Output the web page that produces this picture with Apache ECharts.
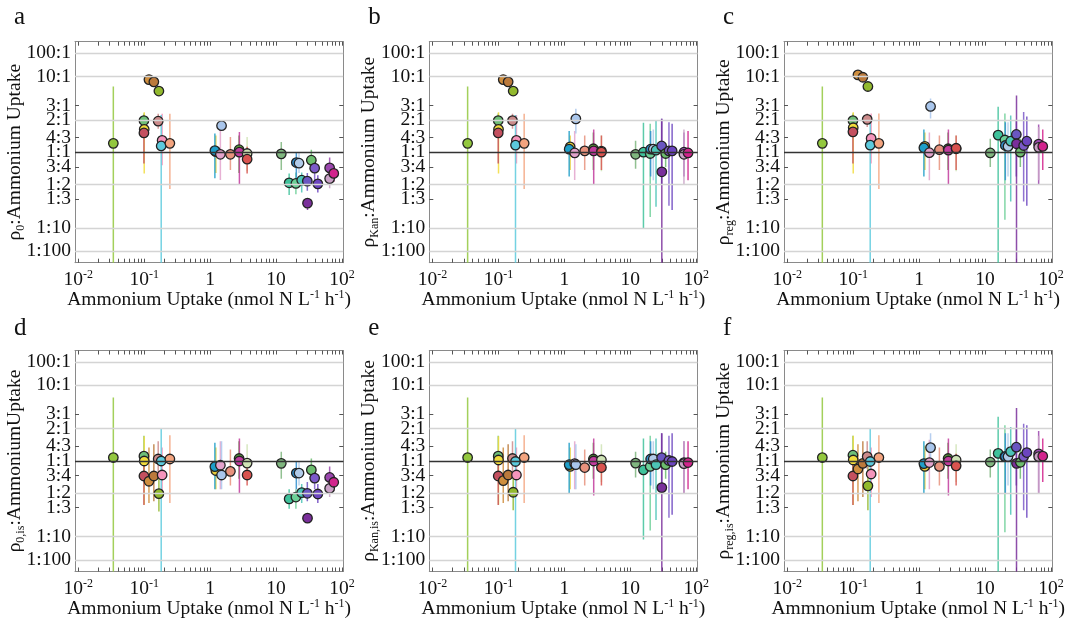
<!DOCTYPE html>
<html><head><meta charset="utf-8">
<script src="https://cdn.jsdelivr.net/npm/echarts@6/dist/echarts.min.js"></script>
<style>html,body{margin:0;padding:0;background:#fff}#c{width:1071px;height:623px}</style>
</head><body><div id="c"></div>
<script>
// ---- data ----
const uptake = [0.034,0.099,0.100,0.099,0.118,0.140,0.167,0.163,0.187,0.181,0.245,
  1.22,1.18,1.43,1.49,2.03,2.75,2.78,3.64,3.64,
  12,15.8,20,20.3,22.3,24.5,29.8,30,34.3,38.5,43,65,65,75];
const colors = ['#93c83e','#6fbf78','#f2dc3c','#c4505f','#cf8e3e','#bb7a3c','#92b92e','#cc8b8b','#f595bc','#5ccadd','#f3a47f',
  '#e6cc3a','#1e9ec8','#e3a3cc','#a9c6ec','#e8927d','#5c9e3c','#c23b9e','#cfe3b5','#d9534f',
  '#7fb67f','#3fc29b','#6ccf96','#2f8ecf','#b1cbe9','#4cc4b6','#6a56c2','#7a2f9b','#6cbd6e','#7c5ac9','#6c45bf','#9b47ae','#c9a1c6','#d2248d'];

const ratioA = [1.19,1.97,1.61,1.48,8.8,8.0,5.47,1.94,1.26,1.13,1.19,
  1.01,1.03,0.96,1.75,0.96,1.05,1.0,0.975,0.872,
  0.968,0.52,0.512,0.817,0.806,0.552,0.54,0.279,0.855,0.728,0.508,0.733,0.573,0.646];
const hiA = [6.6,2.4,2.48,1.75,8.9,8.1,5.55,2.37,2.37,2.3,2.37,
  1.4,1.46,1.69,1.93,1.35,1.4,1.51,1.35,1.11,
  1.22,0.646,0.66,1.0,1.0,0.66,0.65,0.33,1.05,0.85,0.62,0.9,0.66,0.75];
const loA = [0.001,1.6,0.646,0.8,8.7,7.9,5.4,1.63,0.775,0.001,0.44,
  0.65,0.578,0.556,1.6,0.70,0.65,0.495,0.68,0.646,
  0.70,0.373,0.38,0.556,0.65,0.40,0.42,0.21,0.68,0.55,0.40,0.6,0.45,0.53];

const ratioB = [1.19,1.97,1.61,1.48,8.8,8.0,5.47,1.97,1.26,1.15,1.19,
  1.11,1.06,0.985,2.06,1.026,1.07,1.026,1.02,1.0,
  0.96,1.0,0.975,1.06,1.06,1.04,1.13,0.67,0.975,1.026,1.026,1.0,0.96,0.985];
const hiB = [6.6,2.4,2.48,1.75,8.9,8.1,5.55,2.37,2.3,2.3,2.37,
  1.4,1.55,1.55,2.73,1.4,1.5,1.6,1.4,1.4,
  1.25,1.87,1.83,1.55,1.6,1.97,2.06,2.06,1.2,1.9,1.83,1.5,1.6,1.55];
const loB = [0.001,1.6,0.646,0.8,8.7,7.9,5.4,1.63,0.8,0.001,0.44,
  0.7,0.6,0.556,1.46,0.7,0.7,0.495,0.68,0.7,
  0.72,0.094,0.158,0.6,0.55,0.24,0.5,0.001,0.75,0.25,0.21,0.6,0.5,0.55];

const ratioC = [1.19,1.97,1.67,1.52,11.7,9.7,6.6,2.03,1.31,1.15,1.19,
  1.12,1.09,0.99,2.92,1.05,1.07,1.04,1.07,1.08,
  0.985,1.41,1.27,1.14,1.12,1.24,1.43,1.18,1.0,1.14,1.24,1.17,1.10,1.12];
const hiC = [6.6,2.4,2.48,1.8,11.9,9.9,6.7,2.4,2.4,2.3,2.4,
  1.5,1.6,1.5,4.0,1.4,1.5,1.6,1.4,1.4,
  1.3,2.89,2.39,1.9,1.9,2.27,2.0,4.56,1.3,2.5,2.2,1.8,1.7,1.6];
const loC = [0.001,1.6,0.646,0.8,11.5,9.5,6.5,1.7,0.8,0.001,0.44,
  0.7,0.6,0.55,2.08,0.7,0.7,0.5,0.68,0.7,
  0.75,0.001,0.14,0.55,0.6,0.30,0.6,0.001,0.75,0.3,0.25,0.5,0.55,0.7];

const ratioD = [1.07,1.10,1.0,0.745,0.66,0.745,0.495,1.04,0.76,1.0,1.04,
  0.83,0.895,0.92,0.76,0.817,1.05,1.0,0.96,0.76,
  0.955,0.427,0.45,0.79,0.79,0.508,0.5,0.216,0.84,0.71,0.49,0.72,0.56,0.645];
const hiD = [6.0,1.7,1.68,1.0,1.3,1.4,0.73,1.5,1.3,2.0,1.72,
  1.3,1.45,1.5,1.5,1.25,1.5,1.6,1.4,1.0,
  1.2,0.55,0.55,1.0,1.0,0.62,0.65,0.26,1.05,0.85,0.62,0.9,0.66,0.75];
const loD = [0.001,0.7,0.363,0.36,0.38,0.4,0.286,0.8,0.45,0.001,0.38,
  0.55,0.55,0.55,0.55,0.6,0.7,0.5,0.7,0.6,
  0.7,0.32,0.32,0.55,0.6,0.38,0.4,0.18,0.68,0.55,0.38,0.6,0.45,0.53];

const ratioE = [1.07,1.10,1.02,0.745,0.67,0.76,0.512,1.05,0.76,0.99,1.07,
  0.90,0.93,0.95,0.93,0.88,1.04,1.0,1.02,0.88,
  0.96,0.84,0.9,1.04,1.04,0.93,1.07,0.57,0.93,1.01,0.99,0.97,0.95,0.97];
const hiE = [6.0,1.7,1.68,1.0,1.3,1.4,0.75,1.5,1.3,2.0,1.72,
  1.3,1.45,1.5,1.4,1.25,1.45,1.6,1.4,1.1,
  1.2,1.6,1.7,1.5,1.5,1.6,1.8,1.8,1.2,1.7,1.8,1.5,1.5,1.5];
const loE = [0.001,0.7,0.363,0.36,0.38,0.4,0.3,0.8,0.45,0.001,0.38,
  0.55,0.5,0.55,0.55,0.6,0.7,0.47,0.65,0.6,
  0.72,0.075,0.13,0.6,0.55,0.2,0.5,0.001,0.7,0.22,0.25,0.5,0.5,0.55];

const ratioF = [1.07,1.12,1.02,0.745,0.855,0.955,0.594,1.09,0.775,0.99,1.07,
  0.9,0.95,0.97,1.3,0.9,1.05,1.0,1.02,0.91,
  0.98,1.16,1.09,1.09,1.09,1.2,1.31,0.955,0.975,1.09,1.18,1.15,1.09,1.1];
const hiF = [6.0,1.7,1.7,1.0,1.4,1.5,0.9,1.5,1.3,2.0,1.72,
  1.35,1.5,1.55,1.8,1.3,1.45,1.6,1.4,1.15,
  1.25,2.8,2.2,1.8,1.8,2.1,2.0,3.9,1.3,2.3,2.2,1.9,1.7,1.6];
const loF = [0.001,0.7,0.36,0.36,0.4,0.45,0.3,0.85,0.45,0.001,0.38,
  0.55,0.5,0.55,0.9,0.6,0.7,0.47,0.65,0.6,
  0.72,0.001,0.12,0.5,0.6,0.25,0.6,0.001,0.7,0.3,0.22,0.5,0.5,0.65];

const panelLetters = ['a','b','c','d','e','f'];
const yNames = [
  '{g|ρ}{s|0}{g|:Ammonium Uptake}',
  '{g|ρ}{s|Kan}{g|:Ammonium Uptake}',
  '{g|ρ}{s|reg}{g|:Ammonium Uptake}',
  '{g|ρ}{s|0,is}{g|:AmmoniumUptake}',
  '{g|ρ}{s|Kan,is}{g|:Ammonium Uptake}',
  '{g|ρ}{s|reg,is}{g|:Ammonium Uptake}'
];
const xNames = [
  '{g|Ammonium Uptake (nmol N L}{p|-1}{g| h}{p|-1}{g|)}',
  '{g|Ammonium Uptake (nmol N L}{p|-1}{g| h}{p|-1}{g|)}',
  '{g|Ammonium Uptake (nmol N L}{p|-1}{g| h}{p|-1}{g|)}',
  '{g|Ammonium Uptake (nmol N L}{p|-1}{g| h}{p|-1}{g|)}',
  '{g|Ammonium Uptake (nmol N L}{p|-1}{g| h}{p|-1}{g|)}',
  '{g|Ammnonium Uptake (nmol N L}{p|-1}{g| h}{p|-1}{g|)}'
];
const xTickValues = [0.01,0.1,1,10,100];
const xTickLabels = ['{g|10}{p|-2}','{g|10}{p|-1}','{g|1}','{g|10}','{g|10}{p|2}'];
const yTickRatios = [0.01,0.1,1/3,0.5,0.75,1,4/3,2,3,10,100];
const yTickLabels = ['1:100','1:10','1:3','1:2','3:4','1:1','4:3','2:1','3:1','10:1','100:1'];
const gridRatios = [0.01,0.1,0.5,2,10,100];

// ---- y scale definition (compressed ratio axis) ----
const scaleLog = [-2,-1,Math.log10(1/3),Math.log10(0.5),Math.log10(0.75),0,Math.log10(4/3),Math.log10(2),Math.log10(3),1,2];
const scalePos = [-99,-75.7,-46.7,-32.3,-14.7,0,14.7,32.3,46.7,75.7,99];
function T(r){
  const L = Math.log10(r);
  let i;
  if (L <= scaleLog[0]) i = 0;
  else if (L >= scaleLog[10]) i = 9;
  else { i = 0; while (L > scaleLog[i+1]) i++; }
  return scalePos[i] + (L - scaleLog[i]) * (scalePos[i+1]-scalePos[i]) / (scaleLog[i+1]-scaleLog[i]);
}
const yTickPos = yTickRatios.map(T);
const xMinorTicks = [];
for (let e = -2; e <= 1; e++) for (let m = 1; m <= 9; m++) xMinorTicks.push(+(m*Math.pow(10,e)).toPrecision(3));
xMinorTicks.push(100);

const panels = [
  [ratioA, loA, hiA],[ratioB, loB, hiB],[ratioC, loC, hiC],
  [ratioD, loD, hiD],[ratioE, loE, hiE],[ratioF, loF, hiF]
];

// ---- layout ----
const SERIF = 'Liberation Serif';
const lefts = [75, 429.3, 784];
const tops = [41.7, 350.5];
const W = 268.3, H = 221;
const XMIN = Math.pow(10,-2.05), XMAX = Math.pow(10,2.02);
const YMIN = -110.5, YMAX = 110.5;

const option = {
  animation: false,
  backgroundColor: '#fff',
  title: [], grid: [], xAxis: [], yAxis: [], series: []
};
const richX = {
  g: {fontFamily: SERIF, fontSize: 19.5, color: '#111', lineHeight: 22},
  p: {fontFamily: SERIF, fontSize: 12, color: '#111', lineHeight: 12, verticalAlign: 'top'}
};
const richY = {
  g: {fontFamily: SERIF, fontSize: 19.5, color: '#111', lineHeight: 24},
  s: {fontFamily: SERIF, fontSize: 12, color: '#111', lineHeight: 10, verticalAlign: 'bottom'}
};
const frameColor = '#8a8a8a';

panels.forEach((pd, i) => {
  const col = i % 3, row = Math.floor(i / 3);
  const [vals, lo, hi] = pd;
  option.title.push({
    text: panelLetters[i], left: lefts[col] - 61, top: row === 0 ? 5 : 316, padding: 0,
    textStyle: {fontFamily: SERIF, fontSize: 25, fontWeight: 'normal', color: '#111'}
  });
  option.grid.push({left: lefts[col], top: tops[row], width: W, height: H, containLabel: false});
  const xa = 2*i, ya = 2*i;
  option.xAxis.push({
    gridIndex: i, type: 'log', logBase: 10, min: XMIN, max: XMAX, position: 'bottom',
    axisLine: {show: true, onZero: false, lineStyle: {color: frameColor, width: 1}},
    axisTick: {show: true, inside: true, length: 4, customValues: xMinorTicks, lineStyle: {color: '#555', width: 1}},
    minorTick: {show: false},
    axisLabel: {show: true, customValues: xTickValues, margin: 6,
      formatter: v => xTickLabels[xTickValues.findIndex(t => Math.abs(Math.log10(t) - Math.log10(v)) < 1e-6)],
      rich: richX},
    splitLine: {show: false},
    name: xNames[i], nameLocation: 'middle', nameGap: 26, nameMoveOverlap: false,
    nameTextStyle: {rich: richX}
  });
  option.xAxis.push({
    gridIndex: i, type: 'log', logBase: 10, min: XMIN, max: XMAX, position: 'top',
    axisLine: {show: true, onZero: false, lineStyle: {color: frameColor, width: 1}},
    axisTick: {show: true, inside: true, length: 4, customValues: xMinorTicks, lineStyle: {color: '#555', width: 1}},
    axisLabel: {show: false}, splitLine: {show: false}
  });
  option.yAxis.push({
    gridIndex: i, type: 'value', min: YMIN, max: YMAX, position: 'left',
    axisLine: {show: true, onZero: false, lineStyle: {color: frameColor, width: 1}},
    axisTick: {show: true, inside: true, length: 4, customValues: yTickPos, lineStyle: {color: '#555', width: 1}},
    axisLabel: {show: true, customValues: yTickPos, margin: 4, fontFamily: SERIF, fontSize: 19.5, color: '#111',
      formatter: v => yTickLabels[yTickPos.findIndex(p => Math.abs(p - v) < 0.01)]},
    splitLine: {show: false},
    name: yNames[i], nameLocation: 'middle', nameGap: 48, nameRotate: 90, nameMoveOverlap: false,
    nameTextStyle: {rich: richY}
  });
  option.yAxis.push({
    gridIndex: i, type: 'value', min: YMIN, max: YMAX, position: 'right',
    axisLine: {show: true, onZero: false, lineStyle: {color: frameColor, width: 1}},
    axisTick: {show: true, inside: true, length: 4, customValues: yTickPos, lineStyle: {color: '#555', width: 1}},
    axisLabel: {show: false}, splitLine: {show: false}
  });
  const errData = uptake.map((x, k) => [x, T(lo[k]), T(hi[k]), k]);
  option.series.push({
    type: 'custom', xAxisIndex: xa, yAxisIndex: ya, clip: true, z: 2, silent: true,
    encode: {x: 0, y: [1, 2]},
    data: errData,
    renderItem: (params, api) => {
      const x = api.value(0);
      const p1 = api.coord([x, api.value(1)]);
      const p2 = api.coord([x, api.value(2)]);
      return {type: 'line', shape: {x1: p1[0], y1: p1[1], x2: p2[0], y2: p2[1]},
        style: {stroke: colors[api.value(3)], lineWidth: 1.5, opacity: 0.85}};
    },
    markLine: {
      silent: true, symbol: 'none', label: {show: false}, animation: false,
      data: gridRatios.map(r => ({yAxis: T(r), lineStyle: {color: '#d4d4d4', width: 1.3, type: 'solid'}}))
        .concat([{yAxis: 0, lineStyle: {color: '#333', width: 1.4, type: 'solid'}}])
    }
  });
  option.series.push({
    type: 'scatter', xAxisIndex: xa, yAxisIndex: ya, z: 3, symbol: 'circle', symbolSize: 9.5,
    data: uptake.map((x, k) => ({value: [x, T(vals[k])], itemStyle: {color: colors[k]}})),
    itemStyle: {borderColor: '#222', borderWidth: 1.3, opacity: 1}
  });
});

const chart = echarts.init(document.getElementById('c'), null, {renderer: 'canvas'});
chart.setOption(option);
</script></body></html>
